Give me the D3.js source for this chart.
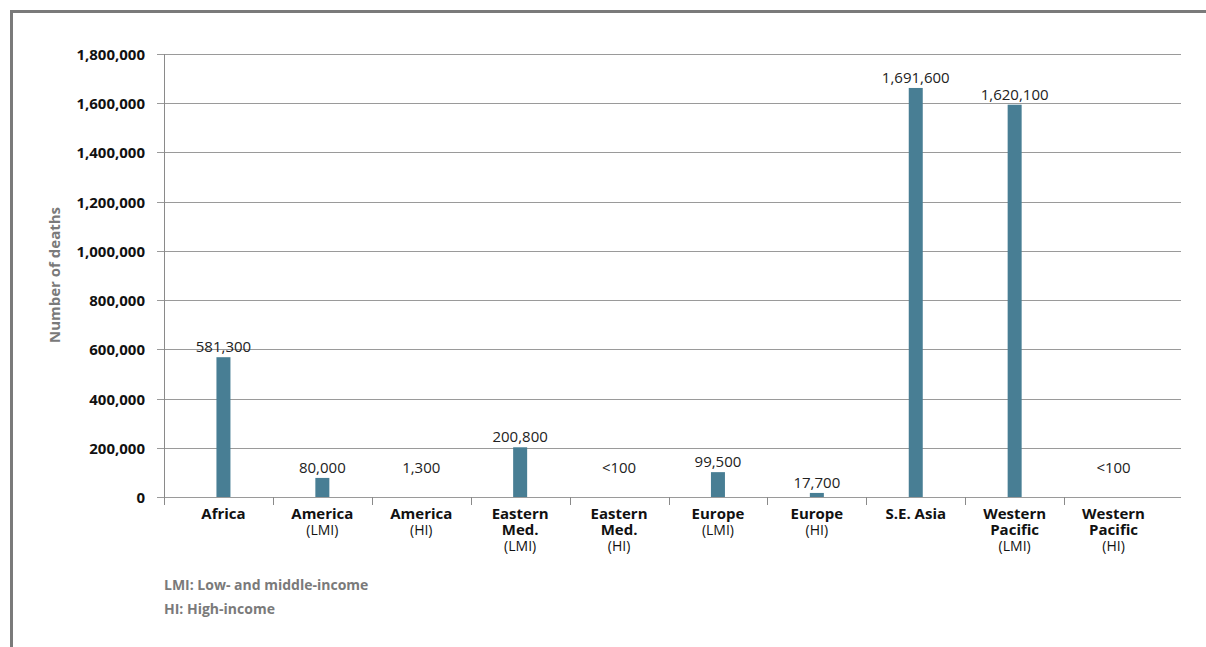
<!DOCTYPE html>
<html>
<head>
<meta charset="utf-8">
<script src="https://cdn.jsdelivr.net/npm/d3@7"></script>
<style>
  html, body { margin: 0; padding: 0; background: #fff; }
  svg { display: block; font-family: "Open Sans", "Noto Sans", sans-serif; }
</style>
</head>
<body>
<svg id="chart" width="1206" height="647"></svg>
<script>
// ---- data ----
const regions = ["Africa", "America", "America", "Eastern Med.", "Eastern Med.", "Europe", "Europe", "S.E. Asia", "Western Pacific", "Western Pacific"];
const nameLines = [["Africa"], ["America"], ["America"], ["Eastern", "Med."], ["Eastern", "Med."], ["Europe"], ["Europe"], ["S.E. Asia"], ["Western", "Pacific"], ["Western", "Pacific"]];
const incomeGroups = ["", "(LMI)", "(HI)", "(LMI)", "(HI)", "(LMI)", "(HI)", "", "(LMI)", "(HI)"];
const deaths = [568000, 77500, 1300, 202000, 0, 101000, 16500, 1662000, 1594000, 0];
const valueLabels = ["581,300", "80,000", "1,300", "200,800", "<100", "99,500", "17,700", "1,691,600", "1,620,100", "<100"];
const yTicks = [0, 200000, 400000, 600000, 800000, 1000000, 1200000, 1400000, 1600000, 1800000];
const notes = ["LMI: Low- and middle-income", "HI: High-income"];

// ---- layout ----
const svg = d3.select("#chart");
const axisLeft = 164, axisRight = 1181;
const bandLeft = 174, bandRight = 1163;
const yTop = 54, yBottom = 497;
const ids = d3.range(deaths.length);

const x = d3.scaleBand().domain(ids).range([bandLeft, bandRight]);
const y = d3.scaleLinear().domain([0, 1800000]).range([yBottom, yTop]);

// frame
svg.append("path")
  .attr("d", `M11.5,647 L11.5,11.5 L1206,11.5`)
  .attr("fill", "none").attr("stroke", "#7a7a7a").attr("stroke-width", 3);

// gridlines + y ticks
const fmt = d3.format(",");
const gy = svg.append("g");
yTicks.forEach(t => {
  const yy = Math.round(y(t)) + 0.5;
  gy.append("line").attr("x1", axisLeft - 7).attr("x2", axisRight)
    .attr("y1", yy).attr("y2", yy)
    .attr("stroke", "#9a9a9a").attr("stroke-width", 1);
  gy.append("text").attr("x", 145).attr("y", yy).attr("dy", "0.35em")
    .attr("text-anchor", "end").attr("font-size", 15).attr("font-weight", 700)
    .attr("fill", "#111").text(fmt(t));
});

// y axis line
svg.append("line").attr("x1", axisLeft + 0.5).attr("x2", axisLeft + 0.5)
  .attr("y1", y(1800000)).attr("y2", yBottom + 8)
  .attr("stroke", "#8a8a8a").attr("stroke-width", 1);

// x tick marks at band boundaries
ids.slice(1).forEach(i => {
  const xx = Math.round(x(i)) + 0.5;
  svg.append("line").attr("x1", xx).attr("x2", xx)
    .attr("y1", yBottom).attr("y2", yBottom + 8)
    .attr("stroke", "#8a8a8a").attr("stroke-width", 1);
});

// y axis title
svg.append("text")
  .attr("transform", `translate(60,275) rotate(-90)`)
  .attr("text-anchor", "middle").attr("font-size", 15).attr("font-weight", 700)
  .attr("fill", "#7a7a7a").text("Number of deaths");

// bars
const barW = 14;
svg.append("g").selectAll("rect").data(ids.filter(i => deaths[i] >= 5000)).join("rect")
  .attr("x", i => x(i) + x.bandwidth() / 2 - barW / 2)
  .attr("y", i => y(deaths[i]))
  .attr("width", barW)
  .attr("height", i => yBottom - y(deaths[i]))
  .attr("fill", "#487e94");

// value labels (very small values are lifted to a readable height)
const minLabelValue = 77500;
svg.append("g").selectAll("text").data(ids).join("text")
  .attr("x", i => x(i) + x.bandwidth() / 2)
  .attr("y", i => y(deaths[i] < 5000 ? minLabelValue : deaths[i]) - 5)
  .attr("text-anchor", "middle").attr("font-size", 15)
  .attr("fill", "#222").text(i => valueLabels[i]);

// x category labels (one text element per line)
const gx = svg.append("g");
ids.forEach(i => {
  const cx = x(i) + x.bandwidth() / 2;
  nameLines[i].forEach((ln, k) => {
    gx.append("text").attr("x", cx).attr("y", 519 + k * 16)
      .attr("text-anchor", "middle").attr("fill", "#111")
      .attr("font-size", 15).attr("font-weight", 700).text(ln);
  });
  if (incomeGroups[i]) {
    gx.append("text").attr("x", cx).attr("y", 519 + nameLines[i].length * 16)
      .attr("text-anchor", "middle").attr("fill", "#111")
      .attr("font-size", 14).attr("font-weight", 400).text(incomeGroups[i]);
  }
});

// notes
notes.forEach((n, k) => {
  svg.append("text").attr("x", 164).attr("y", 590 + k * 24)
    .attr("font-size", 14).attr("font-weight", 700).attr("fill", "#7a7a7a").text(n);
});
</script>
</body>
</html>
